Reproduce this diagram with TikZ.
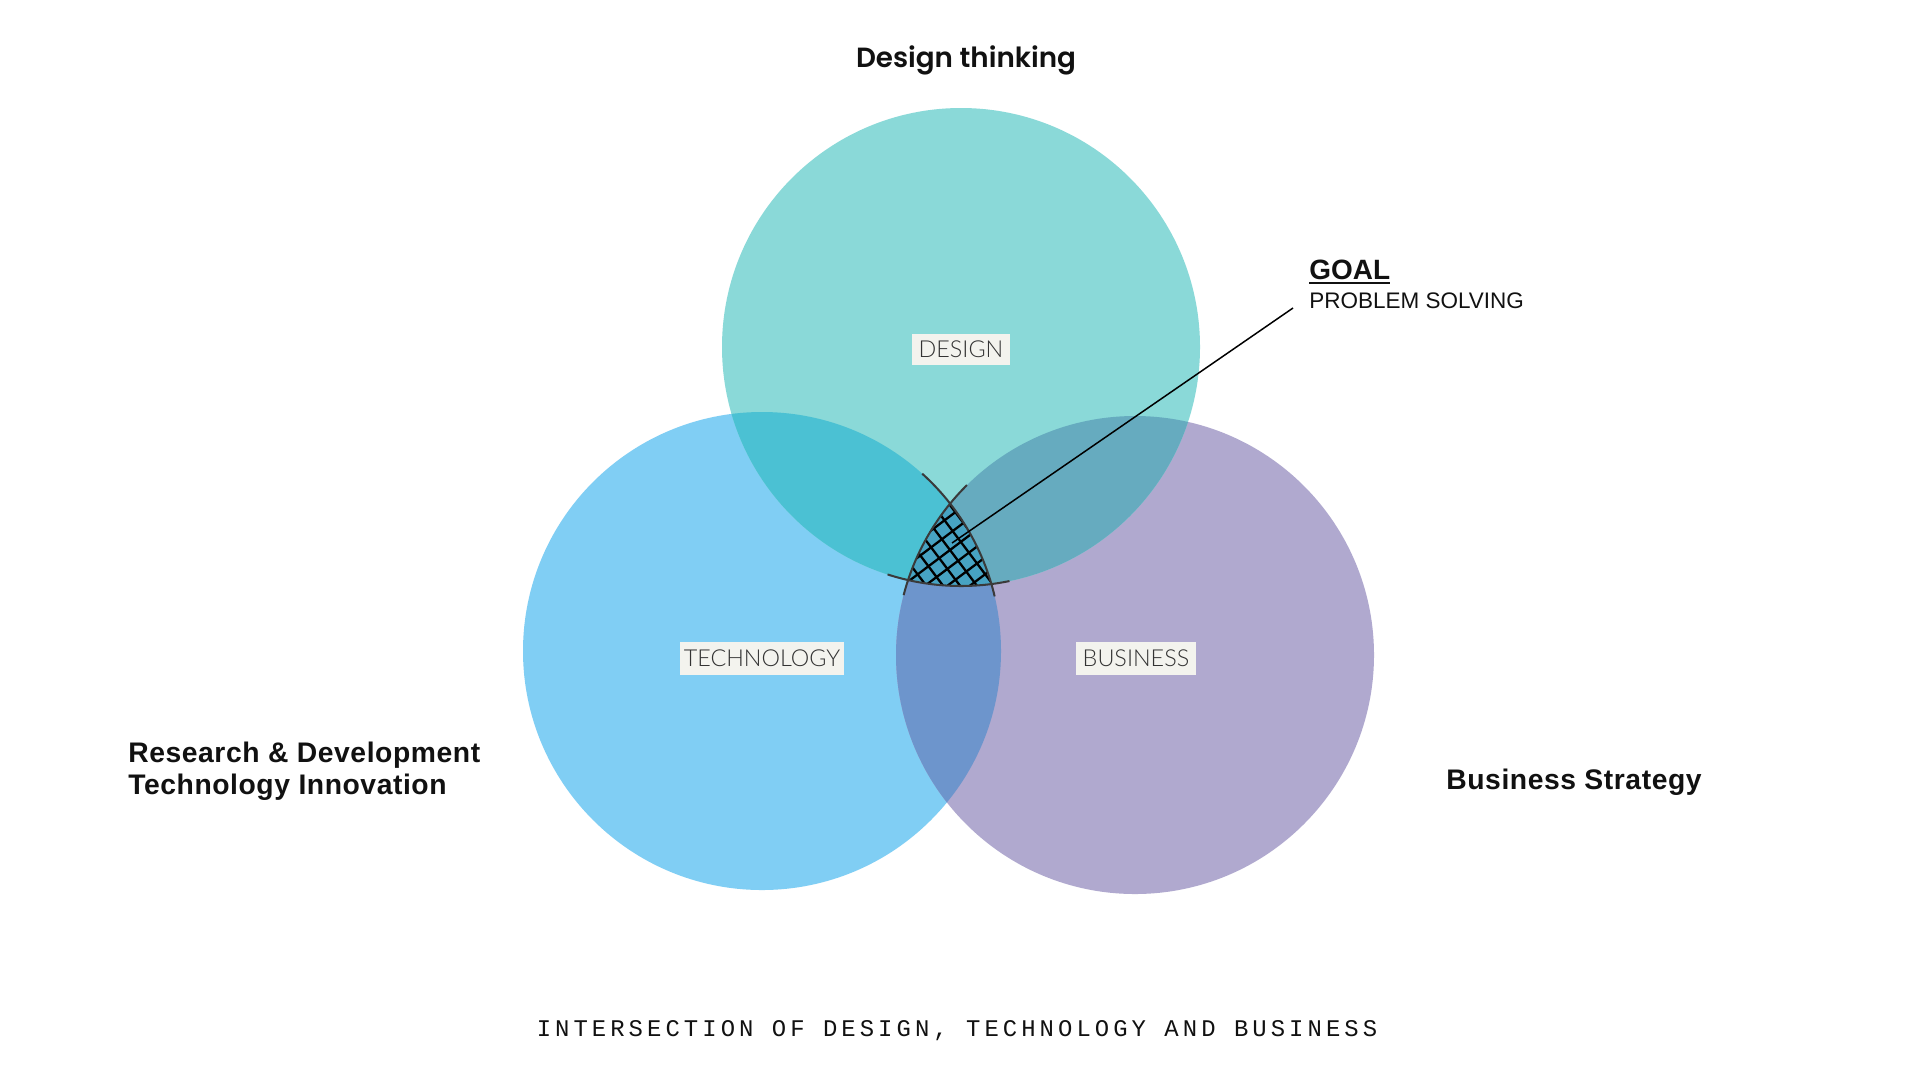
\documentclass[tikz,border=0pt]{standalone}
\usepackage{fontspec}
\setmainfont{Liberation Sans}
\IfFontExistsTF{Poppins SemiBold}{\newfontfamily\designfont{Poppins SemiBold}}{%
  \IfFontExistsTF{Poppins Bold}{\newfontfamily\designfont{Poppins Bold}}{\newfontfamily\designfont{Poppins}}}
\newfontfamily\capsfont{Liberation Mono}[LetterSpace=17]
\newfontfamily\headfont{Liberation Sans}[LetterSpace=2]
\IfFontExistsTF{Lato Light}{\newfontfamily\thinfont{Lato Light}}{\newfontfamily\thinfont{Lato}}

\definecolor{designcol}{HTML}{8AD9D8}
\definecolor{techcol}{HTML}{80CEF4}
\definecolor{buscol}{HTML}{B0A9CF}
\definecolor{destech}{HTML}{4BC1D3}
\definecolor{desbus}{HTML}{66ABBF}
\definecolor{techbus}{HTML}{6D95CC}
\definecolor{allthree}{HTML}{47A3C3}
\definecolor{rimcol}{HTML}{3A3A3A}
\definecolor{tagfill}{HTML}{F3F3EE}
\definecolor{tagtext}{HTML}{333333}
\definecolor{ink}{HTML}{111111}

\tikzset{
  hatchline/.style={black, line width=1.3pt},
  rim/.style={rimcol, line width=1.15pt},
  leader/.style={black, line width=0.85pt},
  tag/.style={fill=tagfill, inner sep=0pt, text=tagtext,
    font=\thinfont\fontsize{13.3}{14}\selectfont},
  heading/.style={inner sep=0pt, text=ink, font=\headfont\bfseries\fontsize{16.1}{18}\selectfont},
}

\begin{document}
\begin{tikzpicture}[x=0.02cm, y=-0.02cm]
\useasboundingbox (0,0) rectangle (1920,1080);
\fill[white] (0,0) rectangle (1920,1080);

\def\R{239}
\coordinate (cD) at (961,347);
\coordinate (cT) at (762,651);
\coordinate (cB) at (1135,655);

% the three circles
\fill[techcol] (cT) circle[radius=\R];
\fill[buscol] (cB) circle[radius=\R];
\fill[designcol] (cD) circle[radius=\R];

% pairwise overlaps
\begin{scope}
  \clip (cD) circle[radius=\R];
  \fill[destech] (cT) circle[radius=\R];
\end{scope}
\begin{scope}
  \clip (cD) circle[radius=\R];
  \fill[desbus] (cB) circle[radius=\R];
\end{scope}
\begin{scope}
  \clip (cT) circle[radius=\R];
  \fill[techbus] (cB) circle[radius=\R];
\end{scope}

% common region, cross-hatched
\begin{scope}
  \clip (cD) circle[radius=\R];
  \clip (cT) circle[radius=\R];
  \clip (cB) circle[radius=\R];
  \fill[allthree] (cB) circle[radius=\R];
  \begin{scope}[shift={(950,550)}, rotate=37]
    \foreach \k in {-9,...,9} {
      \draw[hatchline] (-130,\k*13.5) -- (130,\k*13.5);
      \draw[hatchline] (\k*13.5,-130) -- (\k*13.5,130);
    }
  \end{scope}
\end{scope}

% outline of the common region
\draw[rim] (cB) ++(194.5:\R) arc[start angle=194.5, end angle=225.3, radius=\R];
\draw[rim] (cT) ++(-47.9:\R) arc[start angle=-47.9, end angle=-13.2, radius=\R];
\draw[rim] (cD) ++(78.3:\R) arc[start angle=78.3, end angle=107.9, radius=\R];

% circle tags
\node[tag, minimum width=56.1pt, minimum height=17.6pt] (designtag) at (961,349.5) {DESIGN};
\node[tag, minimum width=93.5pt, minimum height=18.7pt] (techtag) at (762,658.5) {TECHNOLOGY};
\node[tag, minimum width=68pt, minimum height=18.7pt] (bustag) at (1136,658.5) {BUSINESS};

% goal callout
\node[anchor=base west, inner sep=0pt, text=ink, font=\bfseries\fontsize{15.9}{17}\selectfont] (goal) at (1309,279) {GOAL};
\draw[ink, line width=1.1pt] ([yshift=-2.4pt]goal.base west) -- ([yshift=-2.4pt]goal.base east);
\node[anchor=base west, inner sep=0pt, text=ink, font=\fontsize{12.8}{14}\selectfont] (solve) at (1309,308) {PROBLEM SOLVING};
\coordinate (leadstart) at (1293,308);
\coordinate (leadend) at (952,543);
\draw[leader] (leadstart) -- (leadend);

% outer captions
\node[anchor=base, inner sep=0pt, text=ink, font=\designfont\fontsize{15.8}{17}\selectfont] (dthink) at (966,67) {Design thinking};
\node[heading, anchor=base west] (rnd) at (128,762) {Research \& Development};
\node[heading, anchor=base west] (techinno) at (128,794) {Technology Innovation};
\node[heading, anchor=base west] (busstrat) at (1446,789) {Business Strategy};

\node[anchor=base, inner sep=0pt, text=ink, font=\capsfont\fontsize{13.6}{15}\selectfont] (caption) at (957,1036)
  {INTERSECTION OF DESIGN, TECHNOLOGY AND BUSINESS};
\end{tikzpicture}
\end{document}
